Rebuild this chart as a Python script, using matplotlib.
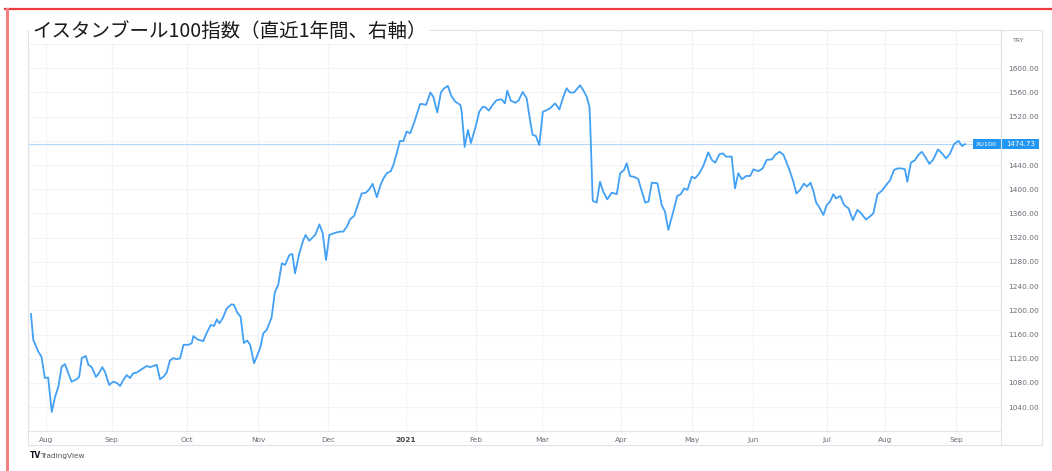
import numpy as np
import matplotlib
matplotlib.use("Agg")
import matplotlib.pyplot as plt
from matplotlib.lines import Line2D
from matplotlib.patches import Rectangle
from matplotlib.transforms import blended_transform_factory

plt.rcParams['font.family'] = ['DejaVu Sans']

title = "イスタンブール100指数（直近1年間、右軸）"
symbol = "XU100"
currency = "TRY"

# trading-session index (0 = first bar) and index close
session = [0, 0.7, 2.2, 3.2, 4.2, 5.2, 6.3, 7.3, 8.3, 9.3, 10.3, 11.3, 12.3, 13.8, 14.6,
           15.4, 16.6, 17.4, 18.4, 19.7, 20.7, 21.6, 22.4, 23.7, 24.9, 26.0, 27.0, 28.0,
           29.0, 30.0, 31.0, 32.0, 33.5, 35.1, 36.1, 37.1, 38.1, 39.1, 40.3, 41.1, 42.1,
           43.1, 44.2, 45.2, 46.2, 47.7, 48.7, 49.2, 50.4, 52.2, 53.2, 54.5, 55.5, 56.3,
           57.1, 58.1, 59.3, 60.8, 61.5, 62.5, 63.5, 64.5, 65.5, 66.4, 67.6, 69.4, 70.4,
           71.4, 72.9, 73.9, 74.9, 76.0, 77.0, 78.3, 79.2, 80.0, 81.3, 82.5, 83.2, 84.3,
           86.1, 87.4, 88.4, 89.4, 90.4, 92.1, 93.6, 94.6, 95.7, 96.7, 97.9, 99.2, 100.2,
           101.5, 102.5, 103.5, 104.8, 105.8, 106.8, 107.8, 109.0, 109.8, 110.8, 111.8,
           112.8, 113.8, 114.9, 116.2, 117.9, 119.0, 119.7, 121.0, 121.9, 123.1, 124.2,
           125.2, 126.3, 127.3, 128.5, 130.1, 130.5, 131.4, 132.4, 133.3, 134.8, 135.8,
           136.9, 137.7, 138.7, 140.1, 141.1, 142.6, 143.6, 144.3, 145.4, 146.7, 147.7,
           149.0, 150.2, 151.2, 152.0, 153.0, 154.0, 155.1, 156.3, 157.3, 158.8, 160.1,
           161.3, 162.3, 163.3, 164.5, 166.4, 167.4, 168.4, 169.2, 169.4, 170.2, 171.4,
           172.4, 173.4, 174.6, 176.0, 177.5, 178.5, 179.7, 180.5, 181.5, 183.0, 184.0,
           186.1, 187.1, 188.1, 189.8, 191.1, 192.1, 193.1, 194.6, 195.8, 196.9, 197.9,
           198.9, 200.2, 201.2, 202.5, 203.7, 205.2, 206.3, 207.3, 208.6, 209.6, 210.6,
           212.3, 213.3, 214.3, 215.4, 216.7, 217.9, 218.9, 220.4, 221.7, 222.9, 224.5,
           225.5, 226.8, 228.0, 229.8, 231.0, 231.9, 233.0, 234.2, 235.1, 236.2, 237.1,
           237.9, 238.9, 240.1, 241.1, 242.1, 243.1, 243.9, 245.2, 246.4, 247.7, 249.0,
           250.4, 251.4, 253.0, 254.2, 255.2, 256.5, 257.8, 259.1, 260.3, 261.5, 262.5,
           263.8, 264.8, 265.5, 266.6, 267.9, 268.9, 269.9, 270.9, 272.2, 273.4, 274.8,
           276.0, 277.3, 278.5, 279.7, 281.0, 282.1, 283.0]

close = [1194, 1151, 1132, 1123, 1088, 1089, 1032, 1057, 1074, 1107, 1111, 1096, 1082, 1086, 1090,
         1121, 1124.5, 1110, 1106, 1090, 1097, 1106, 1098.5, 1076.5, 1082, 1080, 1075, 1085,
         1093, 1088, 1096, 1097, 1102.5, 1108, 1106, 1108, 1110, 1086, 1091, 1097, 1117,
         1121, 1119, 1121, 1143, 1143, 1145.5, 1157.5, 1152, 1149, 1162, 1176, 1174, 1185,
         1178.5, 1187, 1203, 1210, 1209, 1196, 1189.5, 1146, 1150, 1143, 1112.5, 1137, 1162,
         1167.5, 1188, 1230, 1242, 1277.5, 1275, 1291.5, 1293, 1261, 1294, 1316, 1324.5, 1315,
         1324.5, 1342, 1327, 1283, 1324.5, 1328, 1330, 1330, 1338, 1350.5, 1356, 1377, 1393,
         1394.5, 1400, 1409, 1387, 1405.5, 1418, 1426.5, 1430, 1440, 1459.5, 1480,
         1479.5, 1495.5, 1492.5, 1512, 1541, 1540.5, 1539.5, 1560, 1553, 1527, 1560,
         1567, 1571, 1555, 1545, 1539.5, 1528, 1470, 1498, 1476.5, 1505, 1528,
         1536.5, 1535.5, 1530, 1541, 1547.5, 1548.7, 1542, 1563, 1546.5, 1543, 1546.5,
         1561, 1550, 1514.5, 1490, 1488, 1473, 1528, 1531, 1534, 1542, 1532,
         1553, 1567, 1560, 1560, 1572, 1563, 1553, 1536.5, 1514.5, 1381, 1378,
         1412.5, 1396, 1383.5, 1394.5, 1392, 1426.5, 1432, 1443, 1422, 1420, 1416.5,
         1378, 1379.5, 1411, 1410, 1374, 1363, 1333, 1363, 1389, 1392, 1401.5,
         1399, 1421, 1418, 1426.5, 1438.5, 1461, 1448.5, 1444, 1458, 1459.5, 1454,
         1454, 1401.5, 1426.5, 1416.5, 1422, 1422, 1433, 1430, 1434.5, 1448.5, 1449.5,
         1457, 1462, 1457, 1432, 1412.5, 1393, 1399, 1409.5, 1404.5, 1411, 1396,
         1378, 1370, 1357.5, 1374, 1379.5, 1392, 1385, 1389, 1374, 1368.5, 1349,
         1366, 1361, 1350, 1355, 1360, 1392, 1397.5, 1407, 1415, 1432, 1434.5,
         1434.5, 1433, 1412.5, 1444, 1448.5, 1457, 1462, 1454, 1442, 1449.5, 1466,
         1459.5, 1451, 1459.5, 1475, 1480, 1471.5, 1474.73]

month_labels = ["Aug", "Sep", "Oct", "Nov", "Dec", "2021", "Feb", "Mar", "Apr", "May",
                "Jun", "Jul", "Aug", "Sep"]
month_session = [4.5, 24.5, 47.2, 68.9, 90.1, 113.6, 134.8, 154.8, 178.8, 200.3,
                 218.8, 241.2, 258.8, 280.3]
price_ticks = list(range(1040, 1641, 40))

W, H = 1052, 471
def fx(x):
    return x / W
def fy(y):
    return 1 - y / H

fig = plt.figure(figsize=(W / 100, H / 100), dpi=100)
fig.patch.set_facecolor('white')

ax = fig.add_axes([fx(28), fy(431), fx(1001) - fx(28), fy(30) - fy(431)])
grid_c = '#f1f3f8'
border_c = '#e0e3eb'

ax.plot(session, close, color='#42a0f5', lw=1.3, solid_joinstyle='round', zorder=3)
last = close[-1]
ax.axhline(last, color='#b3d7fb', lw=0.8, zorder=2)

ax.set_xlim(-0.9, 293.9)
ax.set_ylim(1000.5, 1663.3)

# labels hidden where the price tag / currency badge sit on top of them
hidden = [1480, 1640]
ax.set_yticks(price_ticks)
ax.set_yticklabels(["" if v in hidden else "%.2f" % v for v in price_ticks])
ax.yaxis.tick_right()
ax.tick_params(axis='y', length=0, pad=5, labelsize=5.3, labelcolor='#6a6d78')

ax.set_xticks(month_session)
ax.set_xticklabels(month_labels)
ax.tick_params(axis='x', length=0, pad=4, labelsize=5.3, labelcolor='#6a6d78')
for lbl in ax.get_xticklabels():
    if lbl.get_text() == "2021":
        lbl.set_fontweight('bold')
        lbl.set_color('#444444')

ax.grid(True, color=grid_c, lw=0.8)
ax.set_axisbelow(True)
for sp in ax.spines.values():
    sp.set_color(border_c)
    sp.set_linewidth(0.8)

# widget frame: price scale and time scale strips
fig.add_artist(Rectangle((fx(28), fy(445)), fx(1042) - fx(28), fy(30) - fy(445),
                         transform=fig.transFigure, fill=False, ec=border_c, lw=0.8))
fig.add_artist(Line2D([fx(1001), fx(1001)], [fy(445), fy(30)], color=border_c, lw=0.8))

# last price tag
tr = blended_transform_factory(fig.transFigure, ax.transData)
ax.add_patch(Rectangle((fx(973), last - 8.5), fx(1039) - fx(973), 17, transform=tr,
                       fc='#2196f3', ec='none', clip_on=False, zorder=5))
ax.text(fx(986), last, symbol, transform=tr, color='white', fontsize=4.6,
        ha='center', va='center', clip_on=False, zorder=6)
ax.text(fx(1021), last, "%.2f" % last, transform=tr, color='white', fontsize=5,
        ha='center', va='center', clip_on=False, zorder=6)

fig.text(fx(1019), fy(41), currency, fontsize=4.5, color='#6a6d78', ha='center', va='center')

# title
fig.text(fx(32), fy(31), title, fontsize=14, color='#1a1a1a', va='center', ha='left',
         family=['Noto Sans CJK JP', 'DejaVu Sans'],
         bbox=dict(boxstyle='square,pad=0.15', fc='white', ec='none'))

# TradingView mark
fig.text(fx(30), fy(456), "TV", fontsize=5.5, fontweight='heavy', color='#131722',
         va='center', ha='left')
fig.text(fx(40), fy(456), "TradingView", fontsize=5.3, color='#50535e', va='center', ha='left')

# red outline of the clipping
fig.add_artist(Line2D([fx(5), fx(1052)], [fy(9), fy(9)], color='#ee3b3b', lw=1.6))
fig.add_artist(Line2D([fx(6.5), fx(6.5)], [fy(9), fy(471)], color='#f47f7f', lw=2.2))

fig.savefig('out.png', dpi=100, facecolor='white')
